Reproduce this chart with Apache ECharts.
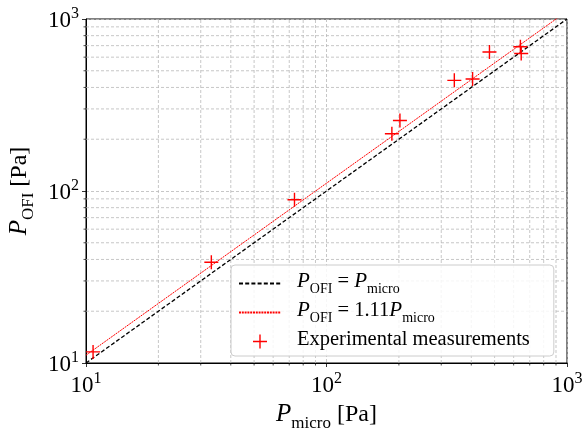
<!DOCTYPE html>
<html>
<head>
<meta charset="utf-8">
<script src="https://cdn.jsdelivr.net/npm/echarts@6/dist/echarts.min.js"></script>
<style>
  html, body { margin: 0; padding: 0; background: #fff; }
  #chart { width: 584px; height: 428px; }
</style>
</head>
<body>
<div id="chart"></div>
<script>
const pMicro = [10.7, 33.2, 73.6, 187, 202, 340, 405, 476, 640, 645];
const pOfi = [11.6, 38.5, 89, 215, 257, 440, 448, 643, 690, 630];
// reference lines
const lineX = [10, 1000];
const fitSlope = 1.11;
// log axis decades and minor positions
const axisMin = 10;
const axisMax = 1000;
const minorVals = [20, 30, 40, 50, 60, 70, 80, 90, 200, 300, 400, 500, 600, 700, 800, 900];

const FONT = '"Liberation Serif", "DejaVu Serif", serif';
const GRID_COLOR = '#b9b9b9';

const chart = echarts.init(document.getElementById('chart'), null, { renderer: 'canvas' });

const tickRich = {
  b: { fontFamily: FONT, fontSize: 23, color: '#000', verticalAlign: 'bottom' },
  s: { fontFamily: FONT, fontSize: 16, color: '#000', verticalAlign: 'bottom', padding: [0, 0, 10, 0] }
};
function powLabel(v) {
  const e = Math.round(Math.log10(v));
  return '{b|10}{s|' + e + '}';
}

const titleRich = {
  i: { fontFamily: FONT, fontSize: 25, fontStyle: 'italic', color: '#000', verticalAlign: 'bottom', padding: [0, 0, 5, 0] },
  sub: { fontFamily: FONT, fontSize: 17, color: '#000', verticalAlign: 'bottom' },
  t: { fontFamily: FONT, fontSize: 24, color: '#000', verticalAlign: 'bottom', padding: [0, 0, 5, 0] }
};

const legRich = {
  i: { fontFamily: FONT, fontSize: 21, fontStyle: 'italic', color: '#000', verticalAlign: 'bottom', padding: [0, 0, 4, 0] },
  sub: { fontFamily: FONT, fontSize: 14, color: '#000', verticalAlign: 'bottom' },
  t: { fontFamily: FONT, fontSize: 20.5, color: '#000', verticalAlign: 'bottom', padding: [0, 0, 4, 0] }
};
const legendText = {
  'eq': '{i|P}{sub|OFI}{t| = }{i|P}{sub|micro}',
  'fit': '{i|P}{sub|OFI}{t| = 1.11}{i|P}{sub|micro}',
  'exp': '{t|Experimental measurements}'
};

// minor gridlines + outward minor ticks, positioned through the axis scales
function minorRender(dir) {
  return function (params, api) {
    const v = api.value(dir === 'x' ? 0 : 1);
    const style = { stroke: GRID_COLOR, lineWidth: 0.8, lineDash: [3, 2] };
    if (dir === 'x') {
      const a = api.coord([v, axisMin]);
      const b = api.coord([v, axisMax]);
      return { type: 'group', children: [
        { type: 'line', shape: { x1: a[0], y1: a[1], x2: b[0], y2: b[1] }, style },
        { type: 'line', shape: { x1: a[0], y1: a[1], x2: a[0], y2: a[1] + 2.5 }, style: { stroke: '#000', lineWidth: 0.7 } }
      ] };
    }
    const a = api.coord([axisMin, v]);
    const b = api.coord([axisMax, v]);
    return { type: 'group', children: [
      { type: 'line', shape: { x1: a[0], y1: a[1], x2: b[0], y2: b[1] }, style },
      { type: 'line', shape: { x1: a[0] - 2.5, y1: a[1], x2: a[0], y2: a[1] }, style: { stroke: '#000', lineWidth: 0.7 } }
    ] };
  };
}

const plusPath = 'path://M4.5,0H5.5V4.5H10V5.5H5.5V10H4.5V5.5H0V4.5H4.5Z';

function logAxis(extra) {
  return Object.assign({
    type: 'log',
    logBase: 10,
    min: axisMin,
    max: axisMax,
    axisLine: { show: true, lineStyle: { color: '#000', width: 1 } },
    axisTick: { show: true, length: 4, lineStyle: { color: '#000', width: 0.8 } },
    splitLine: { show: true, lineStyle: { color: GRID_COLOR, width: 0.8, type: [3, 2] } },
    minorTick: { show: false },
    axisLabel: { formatter: powLabel, rich: tickRich },
    nameLocation: 'middle'
  }, extra);
}

chart.setOption({
  animation: false,
  grid: {
    left: 86, right: 17, top: 19, bottom: 65,
    outerBoundsMode: 'none', containLabel: false,
    show: true, borderColor: '#000', borderWidth: 1, backgroundColor: 'transparent'
  },
  xAxis: logAxis({
    axisLabel: { formatter: powLabel, rich: tickRich, margin: 8 },
    name: '{i|P}{sub|micro}{t| [Pa]}',
    nameGap: 35,
    nameTextStyle: { rich: titleRich }
  }),
  yAxis: logAxis({
    axisLabel: { formatter: powLabel, rich: tickRich, margin: 7 },
    name: '{i|P}{sub|OFI}{t| [Pa]}',
    nameGap: 46,
    nameRotate: 90,
    nameTextStyle: { rich: titleRich }
  }),
  legend: {
    orient: 'vertical',
    left: 231,
    top: 265,
    padding: [6, 24, 6, 7],
    itemGap: 4,
    itemWidth: 42,
    itemHeight: 14,
    borderColor: '#cccccc',
    borderWidth: 1,
    borderRadius: 4,
    backgroundColor: 'rgba(255,255,255,0.85)',
    data: [
      { name: 'eq', itemStyle: { opacity: 0 } },
      { name: 'fit', itemStyle: { opacity: 0 } },
      { name: 'exp' }
    ],
    formatter: n => legendText[n],
    textStyle: { rich: legRich, padding: [0, 0, 0, 11] }
  },
  series: [
    {
      type: 'custom', name: 'gx', silent: true, z: 1,
      renderItem: minorRender('x'),
      data: minorVals.map(v => [v, axisMin])
    },
    {
      type: 'custom', name: 'gy', silent: true, z: 1,
      renderItem: minorRender('y'),
      data: minorVals.map(v => [axisMin, v])
    },
    {
      name: 'eq', type: 'line', z: 3, symbol: 'none', clip: true,
      lineStyle: { color: '#000', width: 1.3, type: [4, 2.2] },
      itemStyle: { color: '#000' },
      data: lineX.map(x => [x, x])
    },
    {
      name: 'fit', type: 'line', z: 3, symbol: 'none', clip: true,
      lineStyle: { color: '#ff0000', width: 1, type: [2, 0.8] },
      itemStyle: { color: '#ff0000' },
      data: lineX.map(x => [x, x * fitSlope])
    },
    {
      name: 'exp', type: 'scatter', z: 4,
      symbol: plusPath, symbolSize: 14, symbolKeepAspect: true,
      itemStyle: { color: '#ff0000', opacity: 1 },
      data: pMicro.map((x, i) => [x, pOfi[i]])
    }
  ]
});
</script>
</body>
</html>
